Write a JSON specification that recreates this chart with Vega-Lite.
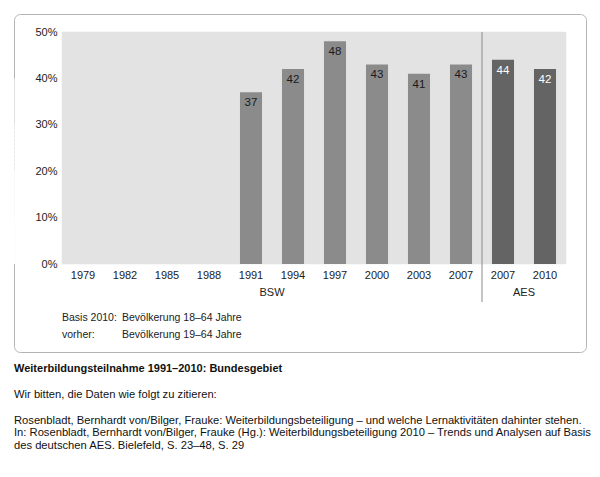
{
  "$schema": "https://vega.github.io/schema/vega-lite/v6.json",
  "width": 572,
  "height": 338,
  "autosize": {"type": "none"},
  "padding": {"left": 14, "top": 14, "right": 14, "bottom": 125},
  "datasets": {
    "bars": [
      {"key": "1979", "series": "BSW", "value": null},
      {"key": "1982", "series": "BSW", "value": null},
      {"key": "1985", "series": "BSW", "value": null},
      {"key": "1988", "series": "BSW", "value": null},
      {"key": "1991", "series": "BSW", "value": 37},
      {"key": "1994", "series": "BSW", "value": 42},
      {"key": "1997", "series": "BSW", "value": 48},
      {"key": "2000", "series": "BSW", "value": 43},
      {"key": "2003", "series": "BSW", "value": 41},
      {"key": "2007 BSW", "series": "BSW", "value": 43},
      {"key": "2007 AES", "series": "AES", "value": 44},
      {"key": "2010", "series": "AES", "value": 42}
    ],
    "groups": [
      {"label": "BSW", "at": "1994"},
      {"label": "AES", "at": "2010"}
    ]
  },
  "data": {"name": "bars"},
  "title": {
    "text": "Weiterbildungsteilnahme 1991–2010: Bundesgebiet",
    "subtitle": [
      "Wir bitten, die Daten wie folgt zu zitieren:",
      "\u200b",
      "Rosenbladt, Bernhardt von/Bilger, Frauke: Weiterbildungsbeteiligung – und welche Lernaktivitäten dahinter stehen.",
      "In: Rosenbladt, Bernhardt von/Bilger, Frauke (Hg.): Weiterbildungsbeteiligung 2010 – Trends und Analysen auf Basis",
      "des deutschen AES. Bielefeld, S. 23–48, S. 29"
    ],
    "orient": "bottom",
    "anchor": "start",
    "frame": "group",
    "offset": 11,
    "fontSize": 11,
    "fontWeight": "bold",
    "color": "#111111",
    "subtitleFontSize": 11.2,
    "subtitleColor": "#111111",
    "subtitleLineHeight": 12.8,
    "subtitlePadding": 15
  },
  "encoding": {
    "x": {
      "field": "key",
      "type": "nominal",
      "sort": null,
      "scale": {
        "domain": ["1979", "1982", "1985", "1988", "1991", "1994", "1997", "2000", "2003", "2007 BSW", "2007 AES", "2010"],
        "range": [48, 552],
        "paddingInner": 0,
        "paddingOuter": 0
      },
      "axis": {
        "title": null,
        "offset": -88,
        "domain": false,
        "ticks": false,
        "grid": false,
        "labelPadding": 5,
        "labelAngle": 0,
        "labelFontSize": 11,
        "labelColor": "#222222",
        "labelExpr": "substring(datum.value, 0, 4)",
        "zindex": 1
      }
    }
  },
  "layer": [
    {
      "mark": {"type": "bar", "width": {"band": 1}, "color": "#e3e3e3", "stroke": "#e3e3e3", "strokeWidth": 0.5},
      "encoding": {
        "y": {
          "datum": 50,
          "type": "quantitative",
          "scale": {"domain": [0, 50], "range": [250, 18]},
          "axis": {
            "title": null,
            "offset": -48,
            "domain": false,
            "ticks": false,
            "grid": false,
            "values": [0, 10, 20, 30, 40, 50],
            "labelExpr": "datum.value + '%'",
            "labelPadding": 5,
            "labelFontSize": 11,
            "labelColor": "#222222",
            "zindex": 1
          }
        }
      }
    },
    {
      "data": {"values": [{"g": 20}, {"g": 40}]},
      "mark": {"type": "rule", "color": "#ffffff", "strokeWidth": 1.2},
      "encoding": {"y": {"field": "g", "type": "quantitative"}}
    },
    {
      "data": {"values": [{"g": 10}, {"g": 30}]},
      "mark": {"type": "rule", "color": "#ffffff", "strokeWidth": 1.2, "strokeDash": [3, 1]},
      "encoding": {"y": {"field": "g", "type": "quantitative"}}
    },
    {
      "transform": [{"filter": "isValid(datum.value)"}],
      "mark": {"type": "bar", "width": {"band": 0.525}},
      "encoding": {
        "y": {"field": "value", "type": "quantitative"},
        "color": {
          "field": "series",
          "type": "nominal",
          "scale": {"domain": ["BSW", "AES"], "range": ["#8b8b8b", "#646464"]},
          "legend": null
        }
      }
    },
    {
      "transform": [{"filter": "isValid(datum.value)"}],
      "mark": {"type": "text", "baseline": "top", "dy": 5, "fontSize": 11.5},
      "encoding": {
        "y": {"field": "value", "type": "quantitative"},
        "text": {"field": "value", "type": "quantitative"},
        "color": {
          "condition": {"test": "datum.series === 'AES'", "value": "#ffffff"},
          "value": "#1a1a1a"
        }
      }
    },
    {
      "data": {"values": [{"at": "2007 AES"}]},
      "mark": {"type": "rule", "color": "#8a8a8a", "strokeWidth": 1},
      "encoding": {
        "x": {"field": "at", "type": "nominal", "bandPosition": 0},
        "y": {"datum": 50},
        "y2": {"datum": -8.2}
      }
    },
    {
      "data": {"name": "groups"},
      "mark": {"type": "text", "baseline": "middle", "align": "center", "dy": 29, "fontSize": 11, "color": "#222222"},
      "encoding": {
        "x": {"field": "at", "type": "nominal", "bandPosition": 0},
        "y": {"datum": 0},
        "text": {"field": "label"}
      }
    },
    {
      "data": {"values": [{"at": "1979"}]},
      "mark": {"type": "text", "baseline": "middle", "align": "left", "dy": 54, "fontSize": 10.5, "lineHeight": 17, "color": "#222222", "text": ["Basis 2010:", "vorher:"]},
      "encoding": {
        "x": {"field": "at", "type": "nominal", "bandPosition": 0},
        "y": {"datum": 0}
      }
    },
    {
      "data": {"values": [{"at": "1979"}]},
      "mark": {"type": "text", "baseline": "middle", "align": "left", "dx": 60, "dy": 54, "fontSize": 10.5, "lineHeight": 17, "color": "#222222", "text": ["Bevölkerung 18–64 Jahre", "Bevölkerung 19–64 Jahre"]},
      "encoding": {
        "x": {"field": "at", "type": "nominal", "bandPosition": 0},
        "y": {"datum": 0}
      }
    }
  ],
  "config": {
    "font": "Liberation Sans, Arial, sans-serif",
    "view": {"stroke": "#b3b3b3", "strokeWidth": 1, "cornerRadius": 6},
    "background": "#ffffff"
  }
}
